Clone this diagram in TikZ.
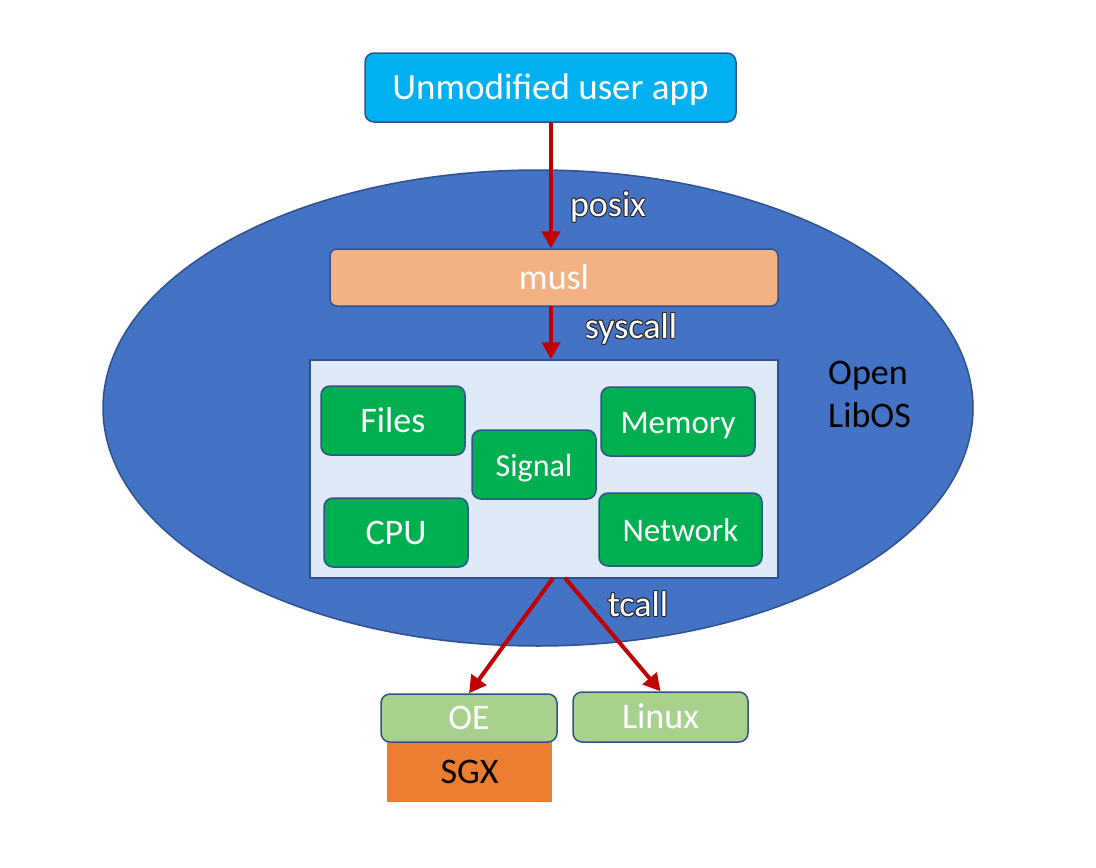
\documentclass[tikz,border=0pt]{standalone}
\usepackage{fontspec}
\setmainfont{Carlito}
\usetikzlibrary{arrows.meta,shapes.geometric}
\definecolor{ellfill}{HTML}{4472C4}
\definecolor{edge}{HTML}{2F528F}
\definecolor{appblue}{HTML}{00B0F0}
\definecolor{muslc}{HTML}{F4B183}
\definecolor{innerc}{HTML}{DEEBF7}
\definecolor{greenc}{HTML}{00B050}
\definecolor{lgreen}{HTML}{A9D18E}
\definecolor{orangec}{HTML}{ED7D31}
\definecolor{arrowred}{HTML}{C00000}
\tikzset{
  vc/.style={text height=25pt, text depth=2pt},
  rbox/.style={vc, draw=edge, line width=1.5pt, rounded corners=9pt, text=white, inner sep=0pt},
  greenbox/.style={rbox, fill=greenc, font=\fontsize{36}{38}\selectfont},
  redarrow/.style={draw=arrowred, line width=4pt, -{Triangle[length=17pt,width=18pt]}},
}
\newcommand{\outlined}[1]{%
  \makebox[0pt][l]{\color{black!85}%
    \makebox[0pt][l]{\raisebox{0.9pt}{#1}}%
    \makebox[0pt][l]{\raisebox{-0.9pt}{#1}}%
    \makebox[0pt][l]{\hspace{0.9pt}#1}%
    \makebox[0pt][l]{\hspace{-0.9pt}#1}%
    \makebox[0pt][l]{\hspace{0.65pt}\raisebox{0.65pt}{#1}}%
    \makebox[0pt][l]{\hspace{-0.65pt}\raisebox{0.65pt}{#1}}%
    \makebox[0pt][l]{\hspace{0.65pt}\raisebox{-0.65pt}{#1}}%
    \makebox[0pt][l]{\hspace{-0.65pt}\raisebox{-0.65pt}{#1}}}%
  {\color{white}#1}}
\begin{document}
\begin{tikzpicture}[x=1pt,y=-1pt]
\useasboundingbox (0,0) rectangle (1096,868);
% ellipse
\node[ellipse, draw=edge, line width=1.5pt, fill=ellfill, minimum width=870pt, minimum height=476pt, inner sep=0pt] (libos) at (538,408) {};
% user app
\node[rbox, fill=appblue, minimum width=371pt, minimum height=69pt, font=\fontsize{37}{39}\selectfont] (app) at (550.5,87.5) {Unmodified user app};
% musl
\node[rbox, fill=muslc, rounded corners=7pt, minimum width=448pt, minimum height=57pt, font=\fontsize{36}{38}\selectfont] (musl) at (554,277.5) {musl};
% inner box
\node[draw=edge, line width=1.5pt, fill=innerc, minimum width=468pt, minimum height=218pt, inner sep=0pt] (core) at (544,469) {};
% components
\node[greenbox, minimum width=144pt, minimum height=69pt] (files) at (393,420.5) {Files};
\node[greenbox, minimum width=124pt, minimum height=69pt, font=\fontsize{32}{34}\selectfont] (signal) at (534,464.5) {Signal};
\node[greenbox, minimum width=154pt, minimum height=69pt, font=\fontsize{33}{35}\selectfont] (memory) at (678,421.5) {Memory};
\node[greenbox, minimum width=144pt, minimum height=69pt] (cpu) at (396,532.5) {CPU};
\node[greenbox, minimum width=163pt, minimum height=73pt, font=\fontsize{33}{35}\selectfont] (network) at (680.5,529.5) {Network};
% Open LibOS label
\node[align=left, font=\fontsize{36}{43}\selectfont, text=black, anchor=west, inner sep=0pt] (label) at (828,394) {Open\\LibOS};
% SGX, OE, Linux
\node[vc, fill=orangec, minimum width=165pt, minimum height=60pt, inner sep=0pt, font=\fontsize{36}{38}\selectfont, text=black] (sgx) at (469.5,772) {SGX};
\node[rbox, fill=lgreen, minimum width=176pt, minimum height=48pt, font=\fontsize{36}{38}\selectfont] (oe) at (469,718) {OE};
\node[rbox, fill=lgreen, minimum width=175pt, minimum height=50pt, font=\fontsize{36}{38}\selectfont] (linux) at (660.5,717) {Linux};
% arrows
\coordinate (a1) at (551,122);
\coordinate (a2) at (551,306);
\coordinate (a3) at (553,578);
\coordinate (a4) at (565,578);
\draw[redarrow] (a1) -- (musl.north -| a1);
\draw[redarrow] (a2) -- (core.north -| a2);
\draw[redarrow] (a3) -- (oe.north);
\draw[redarrow] (a4) -- (linux.north);
% labels
\node[vc, font=\fontsize{36}{38}\selectfont, inner sep=0pt] (posix) at (608,205) {\outlined{posix}};
\node[vc, font=\fontsize{36}{38}\selectfont, inner sep=0pt] (syscall) at (631,327) {\outlined{syscall}};
\node[vc, font=\fontsize{36}{38}\selectfont, inner sep=0pt] (tcall) at (638,605) {\outlined{tcall}};
\end{tikzpicture}
\end{document}
